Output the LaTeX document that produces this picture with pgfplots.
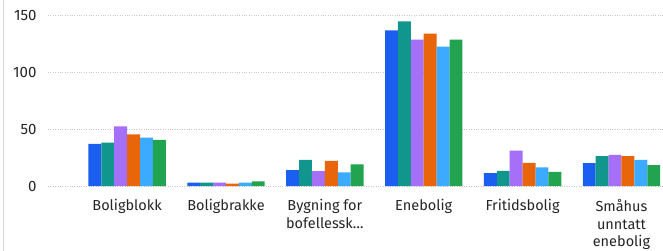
\documentclass[border=0pt]{standalone}
\usepackage{pgfplots}
\pgfplotsset{compat=1.18}
\usepackage{fontspec}
\setmainfont{Fira Sans}
\definecolor{c1}{HTML}{1A5FF0}
\definecolor{c2}{HTML}{10968C}
\definecolor{c3}{HTML}{A66FF7}
\definecolor{c4}{HTML}{E8650A}
\definecolor{c5}{HTML}{3BAAFF}
\definecolor{c6}{HTML}{21A350}
\definecolor{gridc}{HTML}{C8C8C8}
\definecolor{txt}{HTML}{252525}
\begin{document}
\begin{tikzpicture}
\path[use as bounding box] (0,0) rectangle (663bp,251bp);
\draw[gridc!70, line width=0.8bp] (3bp,0) -- (3bp,251bp);
\begin{axis}[
  at={(48bp,65bp)}, anchor=south west,
  scale only axis, width=615bp, height=171bp,
  xmin=-0.80, xmax=5.42, ymin=0, ymax=150,
  ybar=0pt, bar width=12.9bp,
  axis line style={draw=none},
  ymajorgrids, grid style={gridc, dotted, line width=0.9bp},
  ytick={0,50,100,150},
  xtick={0,1,2,3,4,5},
  xticklabels={Boligblokk, Boligbrakke, {Bygning for\\bofellessk\ldots}, Enebolig, Fritidsbolig, {Småhus\\unntatt\\enebolig}},
  xticklabel style={align=center, font=\fontsize{14.5bp}{17.5bp}\selectfont, text=txt, yshift=-10bp},
  yticklabel style={font=\fontsize{15bp}{17bp}\selectfont, text=txt, xshift=-8bp},
  /pgf/number format/assume math mode=true,
  major tick length=0pt,
  clip=false,
  every axis plot/.append style={draw=none},
]
\addplot[fill=c1] coordinates {(0,37) (1,3) (2,14) (3,136.5) (4,11.4) (5,20)};
\addplot[fill=c2] coordinates {(0,38) (1,3) (2,23) (3,144.4) (4,13.2) (5,26.3)};
\addplot[fill=c3] coordinates {(0,52.3) (1,3) (2,13) (3,128.4) (4,31) (5,27.2)};
\addplot[fill=c4] coordinates {(0,45.3) (1,2) (2,22) (3,133.6) (4,20.2) (5,26.3)};
\addplot[fill=c5] coordinates {(0,42.4) (1,3) (2,12) (3,122.2) (4,16.4) (5,23)};
\addplot[fill=c6] coordinates {(0,40.4) (1,4) (2,19) (3,128.4) (4,12.3) (5,18.4)};
\end{axis}
\end{tikzpicture}
\end{document}
